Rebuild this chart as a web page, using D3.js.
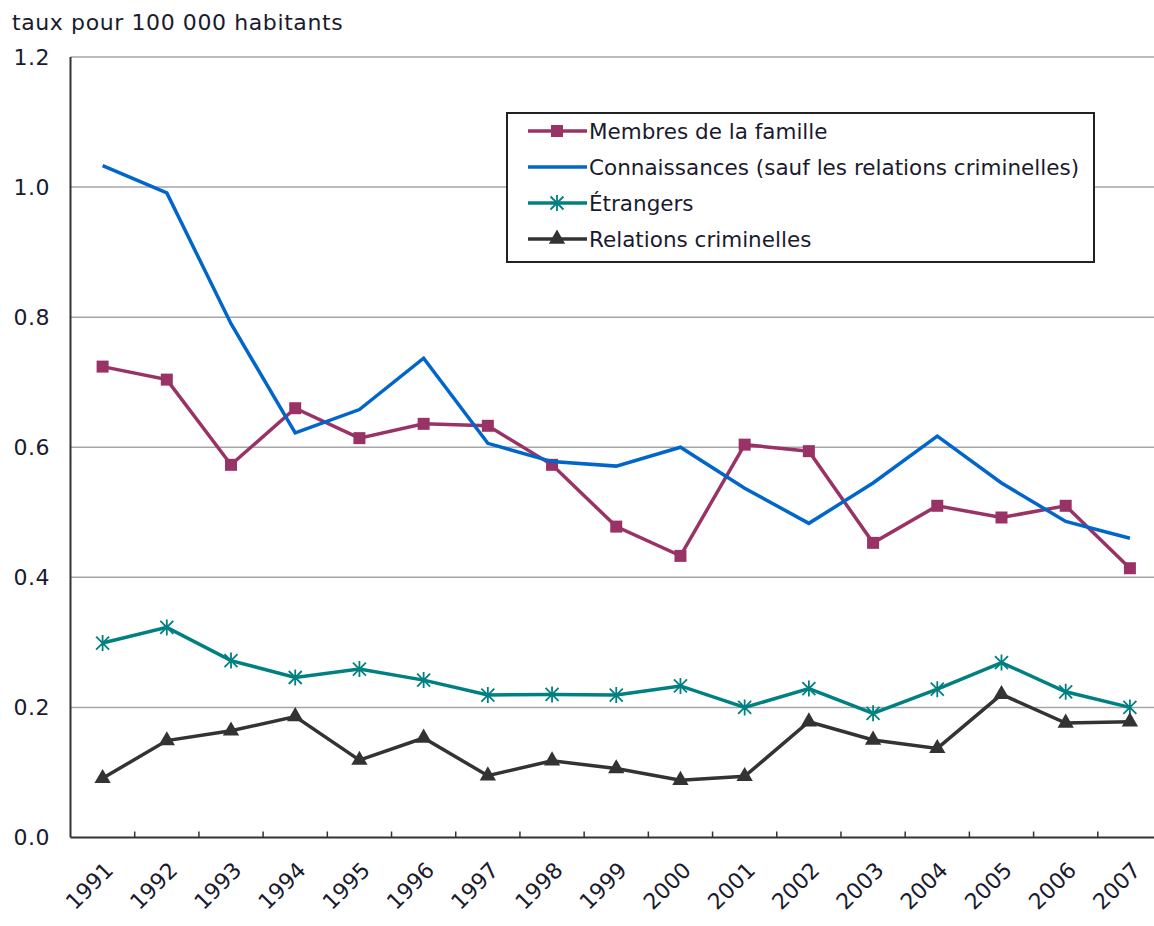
<!DOCTYPE html>
<html lang="fr">
<head>
<meta charset="UTF-8">
<title>Taux pour 100 000 habitants</title>
<script src="https://d3js.org/d3.v7.min.js"></script>
<style>
  body { margin: 0; background: #fff; }
  text { font-family: "DejaVu Sans", Verdana, sans-serif; fill: #1a1a2e; }
</style>
</head>
<body>
<div id="chart"></div>
<script>
// data
const years = ["1991","1992","1993","1994","1995","1996","1997","1998","1999","2000","2001","2002","2003","2004","2005","2006","2007"];
const famille = [0.724, 0.704, 0.573, 0.660, 0.614, 0.636, 0.633, 0.573, 0.478, 0.433, 0.604, 0.594, 0.453, 0.510, 0.492, 0.510, 0.414];
const connaissances = [1.033, 0.991, 0.790, 0.622, 0.658, 0.737, 0.606, 0.578, 0.571, 0.600, 0.537, 0.483, 0.545, 0.617, 0.545, 0.486, 0.460];
const etrangers = [0.299, 0.323, 0.272, 0.246, 0.259, 0.242, 0.219, 0.220, 0.219, 0.233, 0.200, 0.229, 0.191, 0.228, 0.269, 0.224, 0.200];
const criminelles = [0.091, 0.149, 0.164, 0.186, 0.119, 0.153, 0.095, 0.118, 0.106, 0.088, 0.094, 0.178, 0.150, 0.137, 0.220, 0.176, 0.178];
const yTicks = [0, 0.2, 0.4, 0.6, 0.8, 1.0, 1.2];

const series = [
  { name: "Membres de la famille", values: famille, color: "#993366", marker: "square" },
  { name: "Connaissances (sauf les relations criminelles)", values: connaissances, color: "#0066cc", marker: "none" },
  { name: "Étrangers", values: etrangers, color: "#008080", marker: "star" },
  { name: "Relations criminelles", values: criminelles, color: "#333333", marker: "triangle" }
];

const W = 1154, H = 926;
const margin = { left: 70.5, top: 57, right: -8, bottom: 88.5 };

const svg = d3.select("#chart").append("svg")
  .attr("width", W).attr("height", H);

const x = d3.scaleBand()
  .domain(years)
  .range([margin.left, W - margin.right]);

const y = d3.scaleLinear()
  .domain([0, 1.2])
  .range([H - margin.bottom, margin.top]);

// gridlines
svg.append("g")
  .selectAll("line")
  .data(yTicks.filter(d => d > 0))
  .join("line")
  .attr("x1", margin.left).attr("x2", W - margin.right)
  .attr("y1", d => y(d)).attr("y2", d => y(d))
  .attr("stroke", "#a6a6a6").attr("stroke-width", 1.5);

// y labels
svg.append("g")
  .selectAll("text")
  .data(yTicks)
  .join("text")
  .attr("x", 50).attr("y", d => y(d))
  .attr("dy", "0.35em")
  .attr("text-anchor", "end")
  .style("font-size", "22px")
  .style("letter-spacing", "0.5px")
  .text(d => d.toFixed(1));

// x axis with ticks between categories
const xAxis = svg.append("g")
  .attr("transform", "translate(0," + y(0) + ")");
xAxis.append("line")
  .attr("x1", margin.left).attr("x2", W - margin.right)
  .attr("stroke", "#333").attr("stroke-width", 2);
xAxis.selectAll("line.tick")
  .data(years.slice(1))
  .join("line")
  .attr("class", "tick")
  .attr("x1", d => x(d)).attr("x2", d => x(d))
  .attr("y1", 0).attr("y2", -6)
  .attr("stroke", "#333").attr("stroke-width", 1.5);
xAxis.selectAll("text")
  .data(years)
  .join("text")
  .attr("text-anchor", "end")
  .attr("transform", d => "translate(" + (x(d) + x.bandwidth() / 2 + 12) + ",34) rotate(-45)")
  .style("font-size", "22px")
  .text(d => d);

// left axis
svg.append("line")
  .attr("x1", margin.left).attr("x2", margin.left)
  .attr("y1", y(1.2)).attr("y2", y(0))
  .attr("stroke", "#333").attr("stroke-width", 2);

// title
svg.append("text")
  .attr("x", 12).attr("y", 30)
  .style("font-size", "22px")
  .style("letter-spacing", "0.6px")
  .text("taux pour 100 000 habitants");

const cx = (d, i) => x(years[i]) + x.bandwidth() / 2;

function drawMarker(g, type, color) {
  if (type === "square") {
    g.append("rect").attr("x", -6).attr("y", -6).attr("width", 12).attr("height", 12)
      .attr("fill", color);
  } else if (type === "triangle") {
    g.append("path").attr("d", d3.symbol(d3.symbolTriangle, 115)())
      .attr("fill", color);
  } else if (type === "star") {
    g.append("path").attr("d", "M-6.5,-6.5L6.5,6.5M-6.5,6.5L6.5,-6.5M0,-8L0,8")
      .attr("stroke", color).attr("stroke-width", 1.8).attr("fill", "none");
  }
}

const line = d3.line().x(cx).y(d => y(d));

series.forEach(s => {
  svg.append("path")
    .datum(s.values)
    .attr("d", line)
    .attr("fill", "none")
    .attr("stroke", s.color)
    .attr("stroke-width", 3.5);
  if (s.marker !== "none") {
    s.values.forEach((v, i) => {
      const g = svg.append("g").attr("transform", "translate(" + cx(v, i) + "," + y(v) + ")");
      drawMarker(g, s.marker, s.color);
    });
  }
});

// legend
const lg = svg.append("g");
lg.append("rect")
  .attr("x", 507).attr("y", 113).attr("width", 587).attr("height", 149)
  .attr("fill", "#fff").attr("stroke", "#222").attr("stroke-width", 2);
series.forEach((s, i) => {
  const ly = 131 + i * 36;
  lg.append("line")
    .attr("x1", 528).attr("x2", 587).attr("y1", ly).attr("y2", ly)
    .attr("stroke", s.color).attr("stroke-width", 3.5);
  if (s.marker !== "none") {
    drawMarker(lg.append("g").attr("transform", "translate(557," + ly + ")"), s.marker, s.color);
  }
  lg.append("text")
    .attr("x", 589).attr("y", ly).attr("dy", "0.36em")
    .style("font-size", "21.5px")
    .text(s.name);
});
</script>
</body>
</html>
